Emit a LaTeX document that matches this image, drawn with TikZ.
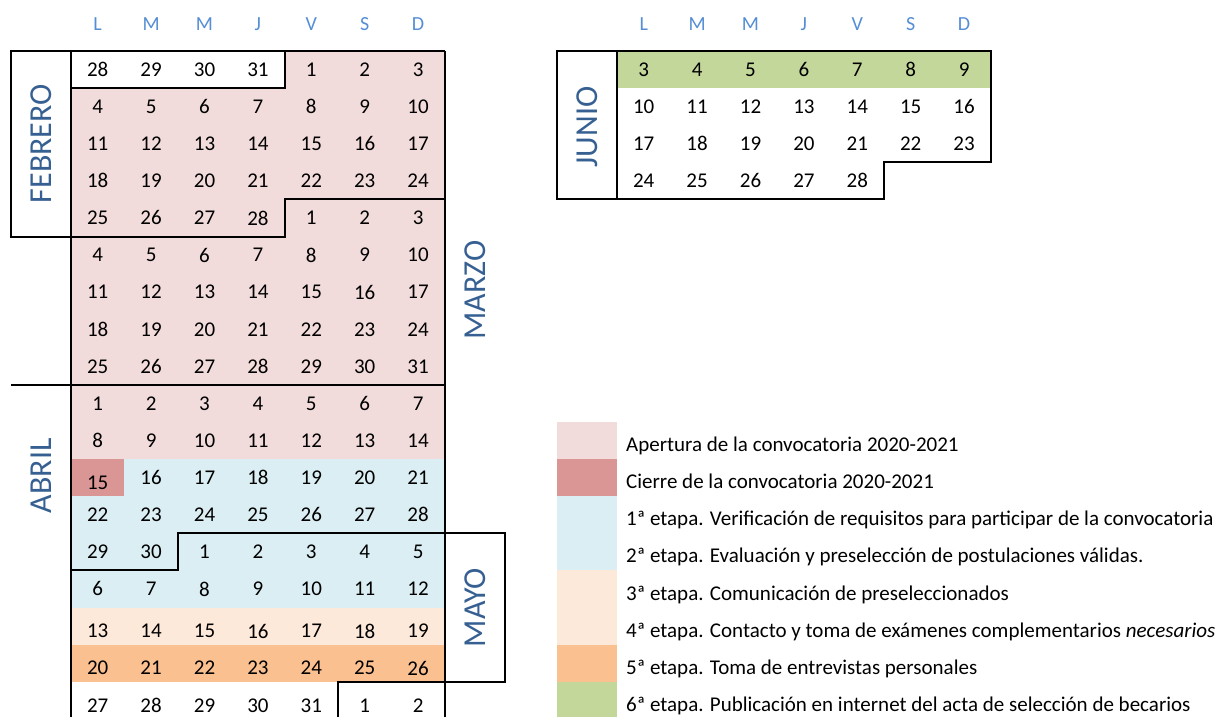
\documentclass[tikz,border=0pt]{standalone}
\usepackage{fontspec}
\setmainfont{Carlito}
\definecolor{apertura}{HTML}{F2DCDB}
\definecolor{cierre}{HTML}{DA9694}
\definecolor{etapaa}{HTML}{DAEEF3}
\definecolor{etapab}{HTML}{FDE9D9}
\definecolor{etapac}{HTML}{FAC090}
\definecolor{etapad}{HTML}{C4D79B}
\definecolor{azulmes}{HTML}{376092}
\definecolor{azuldia}{HTML}{558ED5}
\def\lw{1.1236}
\begin{document}
\begin{tikzpicture}[x=53.4pt,y=-37.1pt,
    num/.style={inner sep=0pt,font=\fontsize{21}{25}\selectfont},
    semana/.style={inner sep=0pt,text=azuldia,font=\fontsize{20}{24}\selectfont},
    mes/.style={inner sep=0pt,text=azulmes,rotate=90,font=\fontsize{32}{38}\selectfont},
    leyenda/.style={inner sep=0pt,anchor=base west,font=\fontsize{21}{25}\selectfont},
    borde/.style={line width=2pt}]
    \useasboundingbox (-1.3296,-1.3747) rectangle (21.6854,17.9245);
    \clip (-1.3296,-1.3747) rectangle (21.6854,17.9245);
    % febrero a mayo
    \fill[apertura] (4,0) rectangle (7,1);
    \fill[apertura] (0,1) rectangle (7,11);
    \fill[cierre] (0,11) rectangle (1,12);
    \fill[etapaa] (1,11) rectangle (7,12);
    \fill[etapaa] (0,12) rectangle (7,15);
    \fill[etapab] (0,15) rectangle (7,16);
    \fill[etapac] (0,16) rectangle (7,17);
    \foreach \d [count=\c from 0] in {L,M,M,J,V,S,D}
        \node[semana] (sem-\c) at (\c+0.5,-0.73) {\d};
    \foreach \r/\s/\dias in {0/0pt/{28,29,30,31,1,2,3},1/0pt/{4,5,6,7,8,9,10},
        2/0pt/{11,12,13,14,15,16,17},3/0pt/{18,19,20,21,22,23,24},
        4/0pt/{25,26,27,28,1,2,3},5/0pt/{4,5,6,7,8,9,10},
        6/0pt/{11,12,13,14,15,16,17},7/0pt/{18,19,20,21,22,23,24},
        8/0pt/{25,26,27,28,29,30,31},9/0pt/{1,2,3,4,5,6,7},
        10/0pt/{8,9,10,11,12,13,14},12/0pt/{22,23,24,25,26,27,28},
        13/0pt/{29,30,1,2,3,4,5},14/0pt/{6,7,8,9,10,11,12},
        15/-5pt/{13,14,15,16,17,18,19},16/-5pt/{20,21,22,23,24,25,26},
        17/-5pt/{27,28,29,30,31,1,2}}
        \foreach \d [count=\c from 0] in \dias
            \node[num,yshift=\s] (d-\r-\c) at (\c+0.5,\r+0.5) {\d};
    \node[num,yshift=-5pt] (d-11-0) at (0.5,11.5) {15};
    \foreach \d [count=\c from 1] in {16,17,18,19,20,21}
        \node[num] (d-11-\c) at (\c+0.5,11.5) {\d};
    \draw[borde] (-\lw,0) rectangle (0,5);
    \draw[borde] (0,0) -- (7,0);
    \draw[borde] (0,1) -- (4,1) -- (4,0);
    \draw[borde] (0,5) -- (4,5) -- (4,4) -- (7,4);
    \draw[borde] (0,0) -- (0,19);
    \draw[borde] (7,0) -- (7,19);
    \draw[borde] (-\lw,9) -- (7,9);
    \draw[borde] (0,14) -- (2,14) -- (2,13) -- (7+\lw,13) -- (7+\lw,17) -- (5,17) -- (5,19);
    \node[mes] (febrero) at (-\lw/2,2.5) {FEBRERO};
    \node[mes] (marzo) at (7.565,6.45) {MARZO};
    \node[mes] (abril) at (-\lw/2,11.45) {ABRIL};
    \node[mes] (mayo) at (7+\lw/2,15) {MAYO};
    % junio y leyenda
    \begin{scope}[xshift=546pt]
        \fill[etapad] (0,0) rectangle (7,1);
        \foreach \d [count=\c from 0] in {L,M,M,J,V,S,D}
            \node[semana] (semj-\c) at (\c+0.5,-0.73) {\d};
        \foreach \r/\dias in {0/{3,4,5,6,7,8,9},1/{10,11,12,13,14,15,16},
            2/{17,18,19,20,21,22,23},3/{24,25,26,27,28}}
            \foreach \d [count=\c from 0] in \dias
                \node[num] (j-\r-\c) at (\c+0.5,\r+0.5) {\d};
        \draw[borde] (-\lw,0) -- (7,0) -- (7,3) -- (5,3) -- (5,4) -- (-\lw,4) -- cycle;
        \draw[borde] (0,0) -- (0,4);
        \node[mes] (junio) at (-\lw/2,2.05) {JUNIO};
        \fill[apertura] (-\lw,10) rectangle (0,11);
        \fill[cierre] (-\lw,11) rectangle (0,12);
        \fill[etapaa] (-\lw,12) rectangle (0,14);
        \fill[etapab] (-\lw,14) rectangle (0,16);
        \fill[etapac] (-\lw,16) rectangle (0,17);
        \fill[etapad] (-\lw,17) rectangle (0,18);
        \node[leyenda] (ley-1) at (0.1685,10.8) {Apertura de la convocatoria 2020-2021};
        \node[leyenda] (ley-2) at (0.1685,11.8) {Cierre de la convocatoria 2020-2021};
        \node[leyenda] (ley-3) at (0.1685,12.8) {1ª etapa. Verificación de requisitos para participar de la convocatoria};
        \node[leyenda] (ley-4) at (0.1685,13.8) {2ª etapa. Evaluación y preselección de postulaciones válidas.};
        \node[leyenda] (ley-5) at (0.1685,14.8) {3ª etapa. Comunicación de preseleccionados};
        \node[leyenda] (ley-6) at (0.1685,15.8) {4ª etapa. Contacto y toma de exámenes complementarios \textit{necesarios}};
        \node[leyenda] (ley-7) at (0.1685,16.8) {5ª etapa. Toma de entrevistas personales};
        \node[leyenda] (ley-8) at (0.1685,17.8) {6ª etapa. Publicación en internet del acta de selección de becarios};
    \end{scope}
\end{tikzpicture}
\end{document}
